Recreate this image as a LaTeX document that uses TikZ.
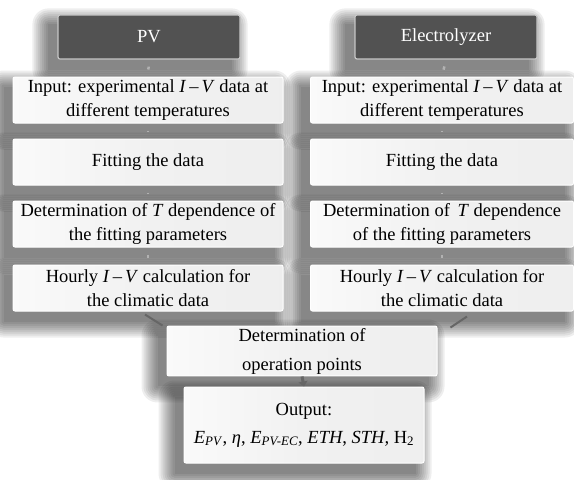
\documentclass[tikz,border=0pt]{standalone}
\usepackage{fontspec}
\setmainfont{Liberation Serif}
\usepackage{tikz}
\usetikzlibrary{calc,arrows.meta,backgrounds}

\tikzset{
  headbox/.style={rectangle,rounded corners=2pt,draw=gray!45,line width=1.2pt,fill=black!68,text=white,
    minimum width=182pt,minimum height=44pt,font=\fontsize{18.5}{22}\selectfont},
  stepbox/.style={rectangle,rounded corners=2pt,draw=white,line width=1pt,left color=gray!4,right color=gray!13,middle color=gray!11,
    minimum height=46pt,align=center,inner sep=2pt,font=\fontsize{18.5}{24}\selectfont},
  dotline/.style={gray!60,line width=2.5pt,shorten <=7pt,shorten >=7pt},
  slant/.style={black!60,line width=2pt},
  haze/.style={black,opacity=0.065},
}

\newcommand{\IV}{\textit{I}\,–\,\textit{V}}

\begin{document}
\begin{tikzpicture}[x=1pt,y=-1pt]
  \useasboundingbox (0,0) rectangle (574,480);
  % left column
  \node[headbox](pv)at(149,37){PV};
  \node[stepbox,minimum width=270pt](inL)at(148,100){Input: experimental \IV{} data at\\different temperatures};
  \node[stepbox,minimum width=270pt](fitL)at(148,162){Fitting the data};
  \node[stepbox,minimum width=270pt](detL)at(148,224){Determination of \textit{T} dependence of\\the fitting parameters};
  \node[stepbox,minimum width=270pt](hrL)at(148,288){Hourly \IV{} calculation for\\the climatic data};
  % right column
  \node[headbox](el)at(446,37){Electrolyzer};
  \node[stepbox,minimum width=263pt](inR)at(442,100){Input: experimental \IV{} data at\\different temperatures};
  \node[stepbox,minimum width=263pt](fitR)at(442,162){Fitting the data};
  \node[stepbox,minimum width=263pt](detR)at(442,224){Determination of\, \textit{T} dependence\\of the fitting parameters};
  \node[stepbox,minimum width=263pt](hrR)at(442,288){Hourly \IV{} calculation for\\the climatic data};
  % bottom
  \node[stepbox,minimum width=270pt,font=\fontsize{18.5}{29}\selectfont](op)at(302,351){Determination of\\operation points};
  \node[stepbox,minimum width=240pt,minimum height=76pt,font=\fontsize{18.5}{28}\selectfont](out)at(304,425)
    {Output:\\\textit{E}\textsubscript{\textit{PV}}, \textit{η}, \textit{E}\textsubscript{\textit{PV-EC}}, \textit{ETH}, \textit{STH,} H\textsubscript{2}};
  % connectors
  \foreach \a/\b in {pv/inL,inL/fitL,fitL/detL,detL/hrL,el/inR,inR/fitR,fitR/detR,detR/hrR}
    \draw[dotline] (\a.south) -- (\b.north);
  \draw[slant] ($(hrL.south)+(-3,3)$) -- ($(op.north west)+(-4,0)$);
  \draw[slant] ($(hrR.south west)+(157,5)$) -- ($(op.north east)+(13,2)$);
  \draw[black!60,line width=3pt,-{Triangle[length=5pt,width=9pt]}] (op.south) -- (out.north);
  % soft shadows
  \begin{pgfonlayer}{background}
    \fill[white] (0,0) rectangle (574,480);
    \foreach \n in {pv,inL,fitL,detL,hrL,el,inR,fitR,detR,hrR,op,out}
      \foreach \k in {0,...,8}
        \fill[haze,rounded corners=\k*2pt] ($(\n.north west)+(-9-\k*2,10-\k*2)$) rectangle ($(\n.south east)+(-9+\k*2,10+\k*2)$);
  \end{pgfonlayer}
\end{tikzpicture}
\end{document}
